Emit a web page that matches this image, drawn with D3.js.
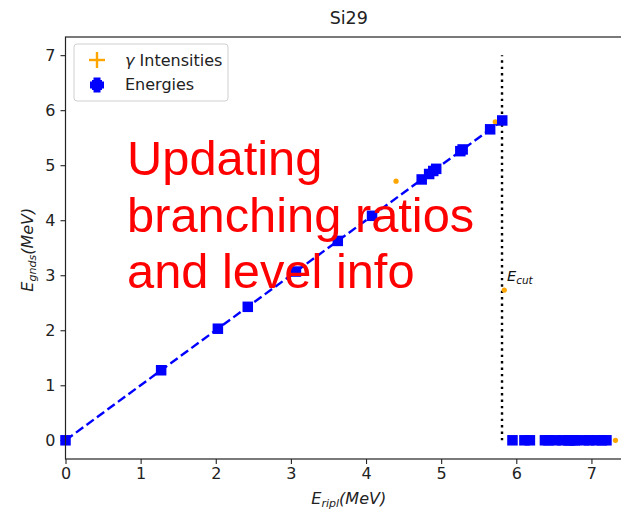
<!DOCTYPE html>
<html><head><meta charset="utf-8">
<script src="https://cdn.jsdelivr.net/npm/d3@7"></script>
<style>body{margin:0;background:#fff} svg{display:block}</style>
</head><body><svg id="c" width="621" height="511"></svg>
<script>
const chartTitle = "Si29";
const matchedRipl = [0, 1.273, 2.028, 2.426, 3.067, 3.624, 4.080, 4.741, 4.840, 4.895, 4.934, 5.255, 5.286, 5.652, 5.813];
const matchedGnds = [0, 1.273, 2.028, 2.426, 3.067, 3.624, 4.080, 4.741, 4.840, 4.895, 4.934, 5.255, 5.286, 5.652, 5.813];
const unmatchedRipl = [5.949, 6.108, 6.181, 6.381, 6.428, 6.522, 6.615, 6.692, 6.714, 6.759, 6.780, 6.903, 6.970, 7.061, 7.139, 7.200];
const unmatchedGnds = [0, 0, 0, 0, 0, 0, 0, 0, 0, 0, 0, 0, 0, 0, 0, 0];
const gammaX = [4.40, 5.72, 5.84, 7.32];
const gammaY = [4.71, 5.79, 2.73, 0];
const xTicks = [0, 1, 2, 3, 4, 5, 6, 7];
const yTicks = [0, 1, 2, 3, 4, 5, 6, 7];
const eCut = 5.81;
const eCutTop = 7;
const legendLabels = ["Intensities", "Energies"];
const overlayLines = ["Updating", "branching ratios", "and level info"];

const svg = d3.select("#c");
const L = 65.5, R = 632, T = 37, B = 459;
const x = d3.scaleLinear([0, 7.54], [L, R]);
const y = d3.scaleLinear([-0.34, 7.33], [B, T]);
const font = "'DejaVu Sans', sans-serif";

// axes
const xa = svg.append("g").attr("transform", `translate(0,${B})`)
  .call(d3.axisBottom(x).tickValues(xTicks).tickFormat(d3.format("d")).tickSize(5).tickSizeOuter(0).tickPadding(4));
const ya = svg.append("g").attr("transform", `translate(${L},0)`)
  .call(d3.axisLeft(y).tickValues(yTicks).tickFormat(d3.format("d")).tickSize(5).tickSizeOuter(0).tickPadding(5));
[xa, ya].forEach(g => {
  g.select(".domain").remove();
  g.selectAll("line").attr("stroke", "#222").attr("stroke-width", 1.1);
  g.selectAll("text").attr("font-family", font).attr("font-size", 16).attr("fill", "#222");
});

// dashed line of matched levels
const pts = matchedRipl.map((v, i) => [v, matchedGnds[i]]);
svg.append("path").datum(pts)
  .attr("d", d3.line().x(d => x(d[0])).y(d => y(d[1])))
  .attr("fill", "none").attr("stroke", "#0000ff").attr("stroke-width", 2.4)
  .attr("stroke-dasharray", "9,4");

// Ecut dotted line
svg.append("line").attr("x1", x(eCut)).attr("x2", x(eCut)).attr("y1", y(0)).attr("y2", y(eCutTop))
  .attr("stroke", "#000").attr("stroke-width", 2.4).attr("stroke-dasharray", "2.4,4");

// gamma points
svg.append("g").selectAll("circle").data(gammaX).join("circle")
  .attr("cx", d => x(d)).attr("cy", (d, i) => y(gammaY[i])).attr("r", 2.6).attr("fill", "#ffa500");

// energy squares
const S = 10.5;
const allE = pts.concat(unmatchedRipl.map((v, i) => [v, unmatchedGnds[i]]));
svg.append("g").selectAll("rect").data(allE).join("rect")
  .attr("x", d => x(d[0]) - S / 2).attr("y", d => y(d[1]) - S / 2)
  .attr("width", S).attr("height", S).attr("fill", "#0000ff");

// Ecut label
const ec = svg.append("text").attr("x", x(eCut) + 5).attr("y", 281)
  .attr("font-family", font).attr("font-size", 14.5).attr("font-style", "italic").attr("fill", "#111");
ec.append("tspan").text("E");
ec.append("tspan").attr("font-size", 10.5).attr("dy", 3).text("cut");

// frame
svg.append("rect").attr("x", L).attr("y", T).attr("width", R - L).attr("height", B - T)
  .attr("fill", "none").attr("stroke", "#222").attr("stroke-width", 1.2);

// title
svg.append("text").attr("x", (L + R) / 2).attr("y", 24).attr("text-anchor", "middle")
  .attr("font-family", font).attr("font-size", 17.5).attr("fill", "#222").text(chartTitle);

// axis labels
const xl = svg.append("text").attr("x", (L + R) / 2).attr("y", 504).attr("text-anchor", "middle")
  .attr("font-family", font).attr("font-size", 16).attr("font-style", "italic").attr("fill", "#222");
xl.append("tspan").text("E");
xl.append("tspan").attr("font-size", 11).attr("dy", 3).text("ripl");
xl.append("tspan").attr("dy", -3).text("(MeV)");
const yl = svg.append("text").attr("transform", `translate(33,${y(3.5) + 2}) rotate(-90)`).attr("text-anchor", "middle")
  .attr("font-family", font).attr("font-size", 16).attr("font-style", "italic").attr("fill", "#222");
yl.append("tspan").text("E");
yl.append("tspan").attr("font-size", 11).attr("dy", 3).text("gnds");
yl.append("tspan").attr("dy", -3).text("(MeV)");

// legend
const lg = svg.append("g");
lg.append("rect").attr("x", 74).attr("y", 44).attr("width", 154).attr("height", 57).attr("rx", 3)
  .attr("fill", "#fff").attr("fill-opacity", 0.8).attr("stroke", "#d0d0d0").attr("stroke-width", 1);
lg.append("line").attr("x1", 89).attr("x2", 105).attr("y1", 60).attr("y2", 60).attr("stroke", "#ffa500").attr("stroke-width", 2.4);
lg.append("line").attr("x1", 97).attr("x2", 97).attr("y1", 52).attr("y2", 68).attr("stroke", "#ffa500").attr("stroke-width", 2.4);
lg.append("rect").attr("x", 92).attr("y", 80).attr("width", 10).attr("height", 10).attr("fill", "#0000ff");
lg.append("rect").attr("x", 93.5).attr("y", 77.5).attr("width", 7).attr("height", 15).attr("fill", "#0000ff");
lg.append("rect").attr("x", 90).attr("y", 81.5).attr("width", 14).attr("height", 7).attr("fill", "#0000ff");
const t1 = lg.append("text").attr("x", 125).attr("y", 66).attr("font-family", font).attr("font-size", 16).attr("fill", "#222");
t1.append("tspan").attr("font-style", "italic").text("γ");
t1.append("tspan").text(" " + legendLabels[0]);
lg.append("text").attr("x", 125).attr("y", 90).attr("font-family", font).attr("font-size", 16).attr("fill", "#222").text(legendLabels[1]);

// overlay red text
svg.append("g").selectAll("text").data(overlayLines).join("text")
  .attr("x", 127).attr("y", (d, i) => 175 + i * 56.5)
  .attr("font-family", "'Liberation Sans', Arial, sans-serif").attr("font-size", 48.8).attr("fill", "#ff0000")
  .text(d => d);
</script></body></html>
